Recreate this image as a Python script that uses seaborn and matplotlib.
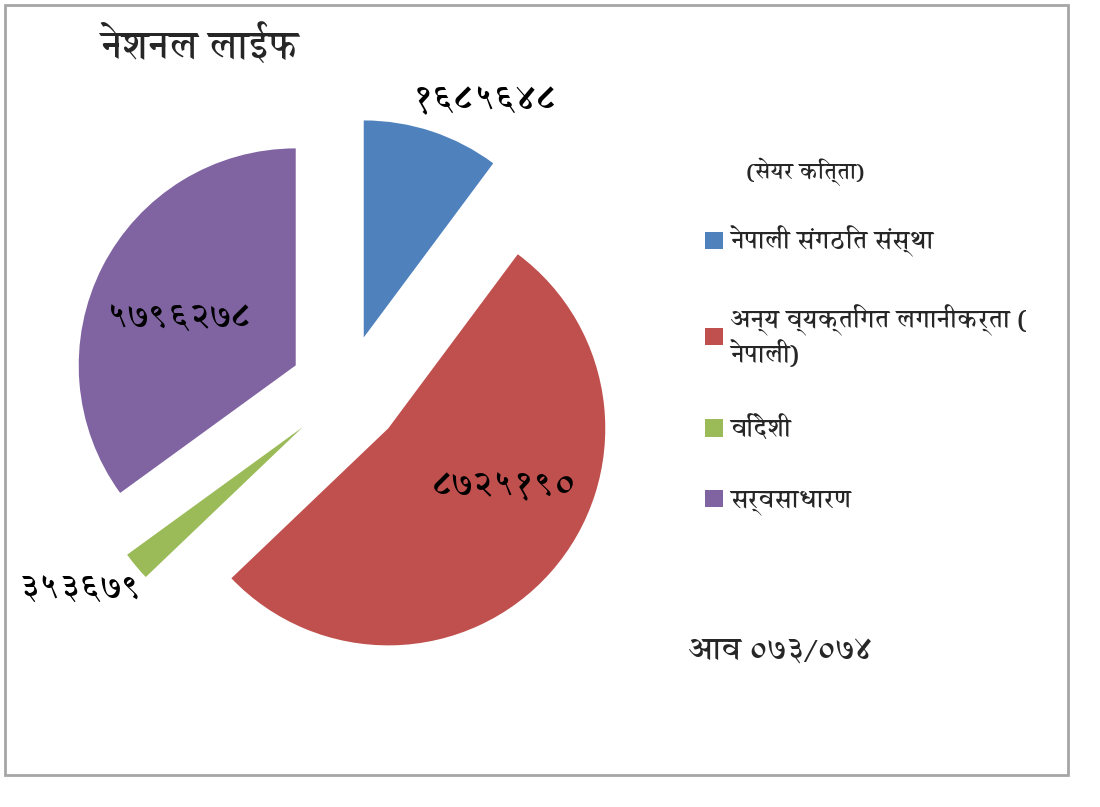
import matplotlib
matplotlib.use('Agg')
import matplotlib.pyplot as plt
import seaborn as sns

# === DATA ===
categories = ['नेपाली संगठित संस्था', 'अन्य व्यक्तिगत लगानीकर्ता (\nनेपाली)', 'विदेशी', 'सर्वसाधारण']
shares = [1685648, 8725190, 353679, 5796278]
value_labels = ['१६८५६४८', '८७२५१९०', '३५३६७९', '५७९६२७८']
colors = ['#4F81BD', '#C0504D', '#9BBB59', '#8064A2']
title = 'नेशनल लाईफ'
legend_title = '(सेयर कित्ता)'
year_text = 'आव ०७३/०७४'

sns.set_theme(style='white')
plt.rcParams['font.family'] = ['Annapurna SIL', 'FreeSerif', 'DejaVu Sans']

fig = plt.figure(figsize=(11, 8.07), dpi=100)

# pie axes: centre at (346, 391) px, radius 217 px
W = 600
ax = fig.add_axes([(346 - W / 2) / 1100, (807 - 391 - W / 2) / 807, W / 1100, W / 807])
wedges, _ = ax.pie(shares, colors=colors, startangle=90, counterclock=False,
                   explode=[0.26] * len(shares), radius=1,
                   wedgeprops=dict(linewidth=0))
lim = W / 2 / 217
ax.set_xlim(-lim, lim)
ax.set_ylim(-lim, lim)
ax.set_aspect('auto')
ax.axis('off')

# value labels
label_pos = [(0.64, 1.34), (0.73, -0.44), (-1.22, -0.92), (-0.77, 0.33)]
for (x, y), t in zip(label_pos, value_labels):
    ax.text(x, y, t, ha='center', va='center', fontsize=25, fontweight='bold', color='black')

fig.text(100 / 1100, 1 - 45 / 807, title, ha='left', va='center', fontsize=28, fontweight='bold')
fig.text(688 / 1100, 1 - 652 / 807, year_text, ha='left', va='center', fontsize=22, fontweight='bold')
fig.text(805 / 1100, 1 - 172 / 807, legend_title, ha='center', va='center', fontsize=16, fontweight='bold')

leg = fig.legend(wedges, categories, loc='upper left',
                 bbox_to_anchor=(683 / 1100, 1 - 203 / 807), frameon=False,
                 prop=dict(size=18, weight='bold'),
                 labelspacing=1.9, handlelength=0.7, handleheight=0.7, handletextpad=0.3)

# outer frame
fig.add_artist(plt.Rectangle((5 / 1100, 32 / 807), 1063 / 1100, 770 / 807,
                             transform=fig.transFigure, fill=False, ec='#a6a6a6', lw=2))

fig.savefig('out.png', dpi=100)
